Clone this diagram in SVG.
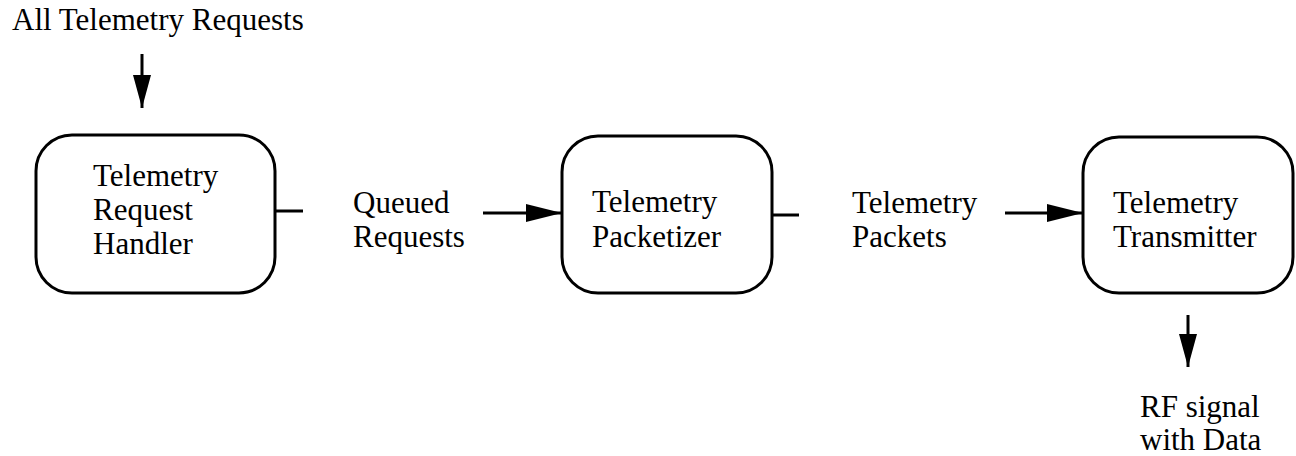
<svg xmlns="http://www.w3.org/2000/svg" width="1296" height="456" viewBox="0 0 1296 456">
<style>
  text { font-family: "Liberation Serif", "Times New Roman", serif; font-size: 31px; fill: #000; }
  .box { fill: #fff; stroke: #000; stroke-width: 3; }
  .line { stroke: #000; stroke-width: 3; fill: none; }
</style>
<defs>
  <marker id="arr" markerWidth="12" markerHeight="6" refX="12" refY="3" orient="auto" markerUnits="strokeWidth">
    <path d="M0,0 L12,3 L0,6 Z" fill="#000"/>
  </marker>
  <marker id="arrv" markerWidth="11" markerHeight="6" refX="11" refY="3" orient="auto" markerUnits="strokeWidth">
    <path d="M0,0 L11,3 L0,6 Z" fill="#000"/>
  </marker>
</defs>
<rect width="1296" height="456" fill="#fff"/>
<g id="input">
  <text x="12" y="30">All Telemetry Requests</text>
</g>
<g id="handler">
  <rect class="box" x="36" y="135" width="239" height="158" rx="36" ry="36"/>
  <text x="93" y="186">Telemetry</text>
  <text x="93" y="220">Request</text>
  <text x="93" y="254">Handler</text>
</g>
<g id="queued">
  <text x="353" y="213">Queued</text>
  <text x="353" y="247">Requests</text>
</g>
<g id="packetizer">
  <rect class="box" x="562" y="136" width="210" height="157" rx="36" ry="36"/>
  <text x="592" y="212">Telemetry</text>
  <text x="592" y="247">Packetizer</text>
</g>
<g id="packets">
  <text x="852" y="213">Telemetry</text>
  <text x="852" y="247">Packets</text>
</g>
<g id="transmitter">
  <rect class="box" x="1083" y="137" width="210" height="156" rx="36" ry="36"/>
  <text x="1113" y="213">Telemetry</text>
  <text x="1113" y="247">Transmitter</text>
</g>
<g id="output">
  <text x="1140" y="417">RF signal</text>
  <text x="1140" y="450">with Data</text>
</g>
<g id="connectors">
  <line class="line" x1="142" y1="54" x2="142" y2="108" marker-end="url(#arrv)"/>
  <line class="line" x1="275" y1="211" x2="303" y2="211"/>
  <line class="line" x1="483" y1="213" x2="562" y2="213" marker-end="url(#arr)"/>
  <line class="line" x1="772" y1="215" x2="799" y2="215"/>
  <line class="line" x1="1005" y1="213" x2="1083" y2="213" marker-end="url(#arr)"/>
  <line class="line" x1="1188" y1="315" x2="1188" y2="367" marker-end="url(#arrv)"/>
</g>
</svg>
